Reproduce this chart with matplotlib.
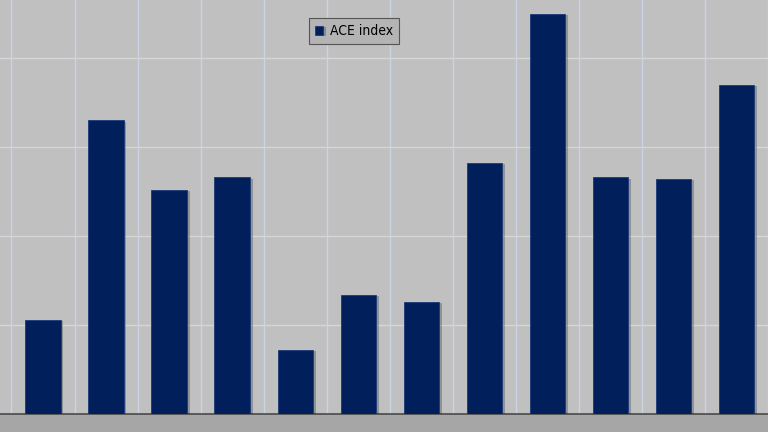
import matplotlib
matplotlib.use("Agg")
import matplotlib.pyplot as plt
import matplotlib.patheffects as pe
from matplotlib.font_manager import FontProperties

# Atlantic ACE index, one bar per season
years = [2008, 2009, 2010, 2011, 2012, 2013, 2014, 2015, 2016, 2017, 2018, 2019, 2020]
ace = [146, 53, 165, 126, 133, 36, 67, 63, 141, 225, 133, 132, 185]
series_name = "ACE index"

fig = plt.figure(figsize=(7.68, 4.32), dpi=100)
fig.patch.set_facecolor("#a6a6a6")
ax = fig.add_axes([0, 18 / 432, 1, 414 / 432])
ax.set_facecolor("#c0c0c0")

bars = ax.bar(years, ace, width=0.56, color="#001f5b", label=series_name,
              edgecolor="#1c3a78", linewidth=0.6, zorder=3)
for b in bars:
    b.set_path_effects([pe.SimplePatchShadow(offset=(2, -1), alpha=0.25), pe.Normal()])

ax.set_xlim(2008.318, 2020.5)
ax.set_ylim(0, 232.6)

# grid lines between the bars and every 50 units
for x in range(2008, 2021):
    ax.axvline(x + 0.5, color="#cdd3e6", linewidth=1, zorder=1)
for y in range(50, 250, 50):
    ax.axhline(y, color="#d6d6d6", linewidth=1, zorder=1)

for s in ["left", "right", "top"]:
    ax.spines[s].set_visible(False)
ax.spines["bottom"].set_color("#4a4a4a")
ax.spines["bottom"].set_linewidth(1.2)
ax.set_xticks([])
ax.set_yticks([])

font = FontProperties(family=["Liberation Sans Narrow", "DejaVu Sans"],
                      stretch="condensed", size=10)
leg = ax.legend(loc="center", bbox_to_anchor=(0.461, 0.925), frameon=True,
                fancybox=False, handlelength=0.6, handleheight=0.6,
                handletextpad=0.5, borderpad=0.4, prop=font)
leg.get_frame().set_facecolor("#b4b4b4")
leg.get_frame().set_edgecolor("#555555")
leg.get_frame().set_linewidth(0.8)
leg.get_frame().set_alpha(1)

fig.savefig("out.png", dpi=100, facecolor=fig.get_facecolor())
